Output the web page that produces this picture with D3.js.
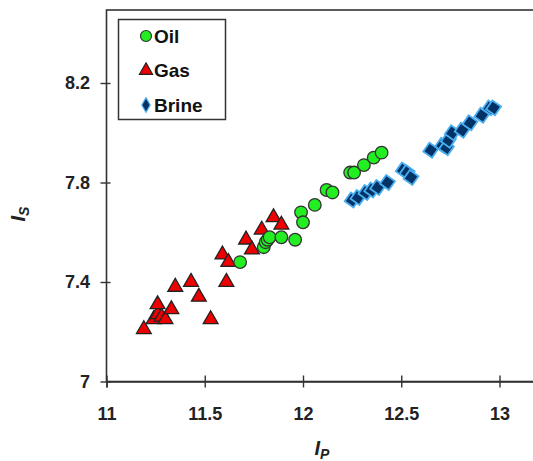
<!DOCTYPE html>
<html>
<head>
<meta charset="utf-8">
<script src="https://cdn.jsdelivr.net/npm/d3@7"></script>
<style>
  body { margin: 0; background: #fff; }
  text { font-family: "Liberation Sans", Arial, sans-serif; }
</style>
</head>
<body>
<div id="chart"></div>
<script>
// data: [I_P, I_S]
const oil = [
  [11.68, 7.48], [11.80, 7.54], [11.81, 7.56], [11.82, 7.57], [11.83, 7.58],
  [11.89, 7.58], [11.96, 7.57], [11.99, 7.68], [12.00, 7.64], [12.06, 7.71],
  [12.12, 7.77], [12.15, 7.76], [12.24, 7.84], [12.26, 7.84], [12.31, 7.87],
  [12.36, 7.90], [12.40, 7.92]
];
const gas = [
  [11.19, 7.21], [11.24, 7.25], [11.26, 7.27], [11.26, 7.31], [11.28, 7.26],
  [11.30, 7.25], [11.33, 7.29], [11.35, 7.38], [11.43, 7.40], [11.47, 7.34],
  [11.53, 7.25], [11.61, 7.40], [11.59, 7.51], [11.62, 7.48], [11.71, 7.57],
  [11.74, 7.53], [11.79, 7.61], [11.85, 7.66], [11.89, 7.63]
];
const brine = [
  [12.25, 7.73], [12.28, 7.74], [12.32, 7.76], [12.35, 7.77], [12.38, 7.78],
  [12.43, 7.80], [12.51, 7.85], [12.53, 7.84], [12.55, 7.82], [12.65, 7.93],
  [12.71, 7.95], [12.73, 7.94], [12.74, 7.97], [12.76, 8.00], [12.81, 8.01],
  [12.85, 8.04], [12.91, 8.07], [12.95, 8.10], [12.97, 8.10]
];
const xTicks = [11, 11.5, 12, 12.5, 13];
const yTicks = [7, 7.4, 7.8, 8.2];
const seriesNames = ["Oil", "Gas", "Brine"];

const width = 533, height = 461;
const mLeft = 106.5, mBottom = 381.5, mTop = 10;

const svg = d3.select("#chart").append("svg")
  .attr("width", width)
  .attr("height", height);

// scales
const x = d3.scaleLinear().domain([11, 13.2]).range([mLeft, mLeft + 2.2 * 196.5]);
const y = d3.scaleLinear().domain([7, 8.5]).range([mBottom, mBottom - 1.5 * 248.75]);

// frame (top line + left axis)
svg.append("rect")
  .attr("x", mLeft).attr("y", mTop)
  .attr("width", 600).attr("height", mBottom - mTop)
  .attr("fill", "none")
  .attr("stroke", "#333").attr("stroke-width", 1.6);

// axes
const xAxis = svg.append("g")
  .attr("transform", `translate(0,${mBottom})`)
  .call(d3.axisBottom(x).tickValues(xTicks).tickFormat(d3.format("")).tickSize(6));
xAxis.select(".domain").attr("stroke", "#333").attr("stroke-width", 1.6);
xAxis.selectAll(".tick line").attr("y1", -6).attr("y2", 6).attr("stroke", "#333").attr("stroke-width", 1.4);
xAxis.selectAll(".tick text")
  .attr("y", 26)
  .attr("fill", "#222")
  .style("font-size", "18px").style("font-weight", "bold")
  .style("font-family", "Liberation Sans, Arial, sans-serif");

const yAxis = svg.append("g")
  .attr("transform", `translate(${mLeft},0)`)
  .call(d3.axisLeft(y).tickValues(yTicks).tickFormat(d3.format("")).tickSize(6));
yAxis.select(".domain").remove();
yAxis.selectAll(".tick line").attr("x1", -6).attr("x2", 4).attr("stroke", "#333").attr("stroke-width", 1.4);
yAxis.selectAll(".tick text")
  .attr("x", -16.5)
  .attr("fill", "#222")
  .style("font-size", "18px").style("font-weight", "bold")
  .style("font-family", "Liberation Sans, Arial, sans-serif");

// axis titles
const xt = svg.append("text")
  .attr("x", 322).attr("y", 455)
  .attr("text-anchor", "middle")
  .attr("fill", "#222")
  .style("font-size", "20px").style("font-weight", "bold").style("font-style", "italic");
xt.append("tspan").text("I");
xt.append("tspan").attr("dy", 4).style("font-size", "14px").text("P");

const yt = svg.append("text")
  .attr("transform", "translate(25,214) rotate(-90)")
  .attr("text-anchor", "middle")
  .attr("fill", "#222")
  .style("font-size", "20px").style("font-weight", "bold").style("font-style", "italic");
yt.append("tspan").text("I");
yt.append("tspan").attr("dy", 4).style("font-size", "14px").text("S");

// markers
const triangle = d3.symbol().type(d3.symbolTriangle).size(95);
const square = d3.symbol().type(d3.symbolSquare).size(115);

const plot = svg.append("g");

plot.selectAll(".gas").data(gas).enter().append("path")
  .attr("class", "gas")
  .attr("d", triangle)
  .attr("transform", d => `translate(${x(d[0])},${y(d[1])})`)
  .attr("fill", "#ee0000").attr("stroke", "#222").attr("stroke-width", 1.3);

plot.selectAll(".oil").data(oil).enter().append("circle")
  .attr("class", "oil")
  .attr("cx", d => x(d[0])).attr("cy", d => y(d[1]))
  .attr("r", 6.3)
  .attr("fill", "#22ee22").attr("stroke", "#333").attr("stroke-width", 1.3);

plot.selectAll(".brine").data(brine).enter().append("path")
  .attr("class", "brine")
  .attr("d", square)
  .attr("transform", d => `translate(${x(d[0])},${y(d[1])}) rotate(35)`)
  .attr("fill", "#033366").attr("stroke", "#4aaef0").attr("stroke-width", 1.8);

// legend
const legend = svg.append("g");
legend.append("rect")
  .attr("x", 118.5).attr("y", 19.5).attr("width", 107).attr("height", 100)
  .attr("fill", "#fff").attr("stroke", "#333").attr("stroke-width", 1.5);

const legendY = [36, 70.5, 105];
seriesNames.forEach((name, i) => {
  const g = legend.append("g").attr("transform", `translate(146,${legendY[i]})`);
  if (name === "Oil") {
    g.append("circle").attr("r", 5.5).attr("fill", "#22ee22").attr("stroke", "#333").attr("stroke-width", 1.2);
  } else if (name === "Gas") {
    g.append("path").attr("d", d3.symbol().type(d3.symbolTriangle).size(75))
      .attr("fill", "#ee0000").attr("stroke", "#222").attr("stroke-width", 1.2);
  } else {
    g.append("path").attr("d", d3.symbol().type(d3.symbolDiamond).size(60))
      .attr("fill", "#033366").attr("stroke", "#4aaef0").attr("stroke-width", 1.2);
  }
  legend.append("text")
    .attr("x", 154).attr("y", legendY[i])
    .attr("dy", "0.36em")
    .attr("fill", "#111")
    .style("font-size", "19px").style("font-weight", "bold")
    .text(name);
});
</script>
</body>
</html>
